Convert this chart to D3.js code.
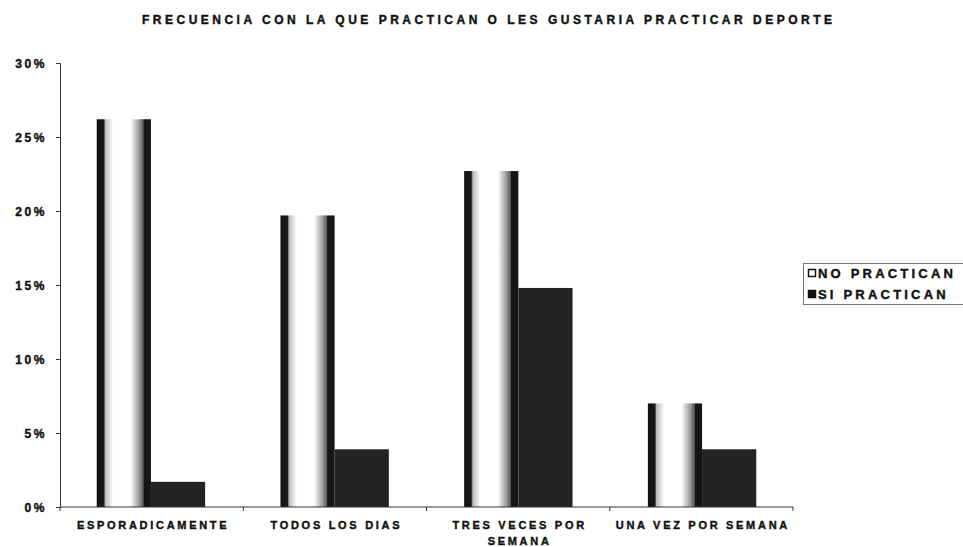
<!DOCTYPE html>
<html>
<head>
<meta charset="utf-8">
<script src="https://cdn.jsdelivr.net/npm/d3@7"></script>
<style>
  html, body { margin: 0; padding: 0; background: #fff; }
  svg { display: block; font-family: "Liberation Sans", Arial, sans-serif; font-weight: bold; }
  .lbl { fill: #111; stroke: #111; stroke-width: 0.4px; }
</style>
</head>
<body>
<svg id="chart" width="963" height="547"></svg>
<script>
// Frecuencia de práctica deportiva (%)
const categories = [
  ["ESPORADICAMENTE"],
  ["TODOS LOS DIAS"],
  ["TRES VECES POR", "SEMANA"],
  ["UNA VEZ POR SEMANA"]
];
const seriesNames = ["NO PRACTICAN", "SI PRACTICAN"];
const noPractican = [26.2, 19.7, 22.7, 7.0];
const siPractican = [1.7, 3.9, 14.8, 3.9];
const yTicks = [0, 5, 10, 15, 20, 25, 30];
const title = "FRECUENCIA CON LA QUE PRACTICAN O LES GUSTARIA PRACTICAR DEPORTE";

const svg = d3.select("#chart");
const margin = { left: 60, top: 63 };
const plotRight = 793, plotBottom = 507;

const x0 = d3.scaleBand()
  .domain(d3.range(categories.length))
  .range([margin.left, plotRight])
  .paddingInner(0.41)
  .paddingOuter(0.2);
const x1 = d3.scaleBand().domain([0, 1]).range([0, x0.bandwidth()]);
const y = d3.scaleLinear().domain([0, 30]).range([plotBottom, margin.top]);

// Cylinder-like shading for the first series
const defs = svg.append("defs");
const grad = defs.append("linearGradient").attr("id", "cyl").attr("x1", 0).attr("x2", 1).attr("y1", 0).attr("y2", 0);
[[0, "#111"], [0.13, "#1a1a1a"], [0.16, "#bbb"], [0.3, "#fff"], [0.62, "#fff"], [0.78, "#9a9a9a"], [0.86, "#555"], [0.87, "#151515"], [1, "#151515"]]
  .forEach(([o, c]) => grad.append("stop").attr("offset", o).attr("stop-color", c));

// Title
svg.append("text")
  .attr("class", "lbl")
  .attr("x", 487).attr("y", 24)
  .attr("text-anchor", "middle")
  .attr("font-size", 12)
  .attr("textLength", 690).attr("lengthAdjust", "spacing")
  .text(title);

// Bars
const groups = svg.append("g").selectAll("g")
  .data(categories.map((c, i) => ({ i, vals: [noPractican[i], siPractican[i]] })))
  .join("g")
  .attr("transform", d => `translate(${x0(d.i)},0)`);

groups.selectAll("rect")
  .data(d => d.vals.map((v, k) => ({ v, k })))
  .join("rect")
  .attr("x", d => x1(d.k))
  .attr("width", x1.bandwidth())
  .attr("y", d => y(d.v))
  .attr("height", d => y(0) - y(d.v))
  .attr("fill", d => d.k === 0 ? "url(#cyl)" : "#232323");

// Y axis
const yAxis = d3.axisLeft(y).tickValues(yTicks).tickSize(4).tickFormat(d => d + "%");
const yg = svg.append("g").attr("transform", `translate(${margin.left},0)`).call(yAxis);
yg.select(".domain").attr("stroke", "#333");
yg.selectAll(".tick line").attr("stroke", "#333");
yg.selectAll(".tick text")
  .attr("class", "lbl")
  .attr("x", -13)
  .attr("dy", "0.36em")
  .attr("font-size", 12)
  .attr("font-family", "Liberation Sans, Arial, sans-serif")
  .attr("font-weight", "bold")
  .attr("letter-spacing", "2.6px");

// X axis with boundary ticks between categories
svg.append("line")
  .attr("x1", margin.left).attr("x2", plotRight)
  .attr("y1", plotBottom).attr("y2", plotBottom)
  .attr("stroke", "#333");
const step = (plotRight - margin.left) / categories.length;
svg.append("g").selectAll("line")
  .data(d3.range(categories.length + 1))
  .join("line")
  .attr("x1", i => margin.left + i * step).attr("x2", i => margin.left + i * step)
  .attr("y1", plotBottom).attr("y2", plotBottom + 4)
  .attr("stroke", "#333");

const xl = svg.append("g").selectAll("text")
  .data(categories.map((c, i) => ({ c, i })))
  .join("text")
  .attr("class", "lbl")
  .attr("text-anchor", "middle")
  .attr("font-size", 11)
  .attr("letter-spacing", "2.7px");
xl.selectAll("tspan")
  .data(d => d.c.map((line, j) => ({ line, j, cx: margin.left + (d.i + 0.5) * step + 1.5 })))
  .join("tspan")
  .attr("x", d => d.cx)
  .attr("y", d => 529 + d.j * 16)
  .text(d => d.line);

// Legend
const lg = svg.append("g");
lg.append("rect")
  .attr("x", 803.5).attr("y", 263.5).attr("width", 170).attr("height", 41)
  .attr("fill", "#fff").attr("stroke", "#777");
seriesNames.forEach((name, k) => {
  const cy = 273 + k * 21;
  lg.append("rect")
    .attr("x", 808.5).attr("y", cy - 3.5).attr("width", 7).attr("height", 7)
    .attr("fill", k === 0 ? "#fff" : "#111")
    .attr("stroke", "#111").attr("stroke-width", 1.5);
  lg.append("text")
    .attr("class", "lbl")
    .attr("x", 818).attr("y", cy + 5)
    .attr("font-size", 13)
    .attr("letter-spacing", "3.2px")
    .text(name);
});
</script>
</body>
</html>
